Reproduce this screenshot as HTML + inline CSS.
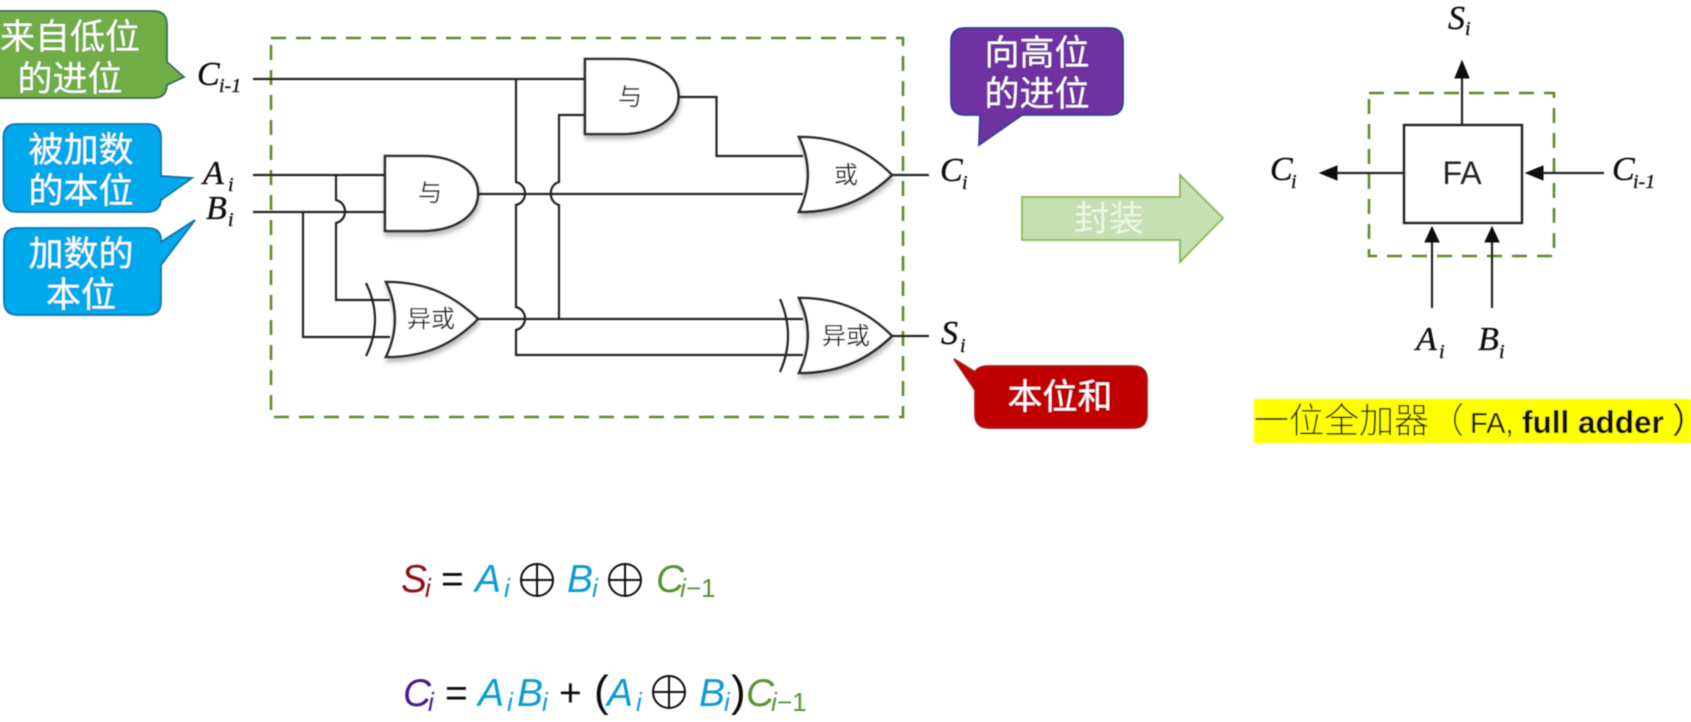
<!DOCTYPE html>
<html><head><meta charset="utf-8"><style>
html,body{margin:0;padding:0;background:#fff;width:1691px;height:722px;overflow:hidden}
svg{display:block}
.cj{font-family:"Liberation Sans","Noto Sans CJK SC",sans-serif}
.ma{font-family:"Liberation Serif",serif;font-style:italic;fill:#111;stroke:#111;stroke-width:.35}
.fo{font-family:"Liberation Sans",sans-serif;font-style:italic}
.w{fill:none;stroke:#222;stroke-width:2.2}
.g{fill:#fff;stroke:#2a2a2a;stroke-width:2.6;filter:url(#sh)}
.d{fill:none;stroke:#5f8a2c;stroke-width:2.6;stroke-dasharray:15 10}
.t{fill:#fff;font-size:35px;text-anchor:middle}
.gl{fill:#222;font-size:24px;text-anchor:middle}
</style></head><body>
<svg xmlns="http://www.w3.org/2000/svg" width="1691" height="722" viewBox="0 0 1691 722">
<defs>
<filter id="sh" x="-20%" y="-20%" width="140%" height="150%"><feDropShadow dx="1" dy="4" stdDeviation="2.5" flood-color="#000" flood-opacity=".28"/></filter>
<filter id="b" x="-2%" y="-2%" width="104%" height="104%"><feGaussianBlur stdDeviation=".5"/></filter>
</defs>
<rect width="1691" height="722" fill="#fff"/>
<g filter="url(#b)">
<!-- green callout -->
<path d="M-10 11H153Q167 11 167 25V62L184 77L167 85V84Q167 98 153 98H-10Z" fill="#70ad47" stroke="#2f6e55" stroke-width="1.8"/>
<text class="cj t" x="70" y="49">来自低位</text>
<text class="cj t" x="70" y="91">的进位</text>
<!-- blue 1 -->
<path d="M17 124H147Q161 124 161 138V176L192 178L161 200V198Q161 212 147 212H17Q3.500 212 3.500 198V138Q3.500 124 17 124Z" fill="#00a9ec" stroke="#0d72a8" stroke-width="1.8"/>
<text class="cj t" x="81" y="162">被加数</text>
<text class="cj t" x="81" y="203">的本位</text>
<!-- blue 2 -->
<path d="M18 228H147Q161 228 161 240V242L195 220L161 265V301Q161 315 147 315H18Q4 315 4 301V242Q4 228 18 228Z" fill="#00a9ec" stroke="#0d72a8" stroke-width="1.8"/>
<text class="cj t" x="81" y="266">加数的</text>
<text class="cj t" x="81" y="307">本位</text>
<!-- purple -->
<path d="M965 28H1109Q1123 28 1123 42V101Q1123 115 1109 115H1022L979 145L980 115H965Q951 115 951 101V42Q951 28 965 28Z" fill="#7030a0" stroke="#2b3f9a" stroke-width="1.8"/>
<text class="cj t" x="1037" y="65">向高位</text>
<text class="cj t" x="1037" y="106">的进位</text>
<!-- red -->
<path d="M989 366H1133Q1147 366 1147 380V414Q1147 428 1133 428H989Q975 428 975 414V390L954 359L975 372Q978 366 989 366Z" fill="#c00000" stroke="#a31d1d" stroke-width="1.8"/>
<text class="cj t" x="1060" y="409">本位和</text>
<!-- big arrow -->
<path d="M1022 197H1180V175L1223 218L1180 262V240H1022Z" fill="#c5e0b4" stroke="#8db84a" stroke-width="1.8"/>
<text class="cj" x="1109" y="231" font-size="35" text-anchor="middle" fill="#eef6e8">封装</text>
<!-- dashed boxes -->
<rect class="d" x="271" y="38" width="632" height="379"/>
<rect class="d" x="1369" y="93" width="185" height="163"/>
<!-- wires -->
<path class="w" d="M253 79H585"/>
<path class="w" d="M253 175H385"/>
<path class="w" d="M253 212H385"/>
<path class="w" d="M336 175V200C348 203 348 220 336 223V300H390"/>
<path class="w" d="M303 212V337H390"/>
<path class="w" d="M478 194H803"/>
<path class="w" d="M478 319H803"/>
<path class="w" d="M516 79V182C528 185 528 202 516 205V307C528 310 528 327 516 330V355H803"/>
<path class="w" d="M559 318V205C548 202 548 185 559 182V115H585"/>
<path class="w" d="M678 97H716.500V156H803"/>
<path class="w" d="M890 175H929"/>
<path class="w" d="M890 336H929"/>
<!-- extra xor arcs -->
<path class="w" d="M366 283Q384 320 366 356"/>
<path class="w" d="M780 299Q796 336 780 372"/>
<!-- gates -->
<path class="g" d="M385 156H421C456 156 478 172 478 193.500C478 215 456 231 421 231H385Z"/>
<path class="g" d="M585 59H621C656 59 678.500 75 678.500 96.500C678.500 118 656 134 621 134H585Z"/>
<path class="g" d="M386 282C430 282 456 298 478 319C456 341 430 357 386 357C398 332 398 307 386 282Z"/>
<path class="g" d="M799 137C843 137 870 153 892 175C870 196 843 212 799 212C811 187 811 162 799 137Z"/>
<path class="g" d="M799 298C843 298 870 314 892 336C870 357 843 373 799 373C811 348 811 323 799 298Z"/>
<text class="cj gl" x="430" y="201">与</text>
<text class="cj gl" x="630" y="105">与</text>
<text class="cj gl" x="431" y="327">异或</text>
<text class="cj gl" x="846" y="183">或</text>
<text class="cj gl" x="846" y="344">异或</text>
<!-- labels -->
<text class="ma" x="197" y="85" font-size="34">C</text><text class="ma" x="219" y="92" font-size="20">i-1</text>
<text class="ma" x="203" y="184" font-size="34">A</text><text class="ma" x="228" y="191" font-size="20">i</text>
<text class="ma" x="206" y="219" font-size="34">B</text><text class="ma" x="228" y="226" font-size="20">i</text>
<text class="ma" x="940" y="181" font-size="34">C</text><text class="ma" x="962" y="189" font-size="20">i</text>
<text class="ma" x="941" y="344" font-size="34">S</text><text class="ma" x="960" y="352" font-size="20">i</text>
<!-- FA -->
<rect x="1404" y="125" width="118" height="98" fill="none" stroke="#222" stroke-width="2.4"/>
<text x="1462" y="184" font-family="Liberation Sans,sans-serif" font-size="32" text-anchor="middle" fill="#222">FA</text>
<path class="w" d="M1462 125V76"/><path d="M1462 61L1455 78H1469Z" fill="#111" stroke="#111"/>
<path class="w" d="M1404 173H1334"/><path d="M1320 173L1337 166V180Z" fill="#111" stroke="#111"/>
<path class="w" d="M1604 173H1540"/><path d="M1526 173L1543 166V180Z" fill="#111" stroke="#111"/>
<path class="w" d="M1432 308V240"/><path d="M1432 227L1425 242H1439Z" fill="#111" stroke="#111"/>
<path class="w" d="M1492 308V240"/><path d="M1492 227L1485 242H1499Z" fill="#111" stroke="#111"/>
<text class="ma" x="1448" y="29" font-size="34">S</text><text class="ma" x="1465" y="35" font-size="20">i</text>
<text class="ma" x="1270" y="180" font-size="34">C</text><text class="ma" x="1291" y="188" font-size="20">i</text>
<text class="ma" x="1612" y="180" font-size="34">C</text><text class="ma" x="1633" y="188" font-size="20">i-1</text>
<text class="ma" x="1416" y="350" font-size="34">A</text><text class="ma" x="1439" y="358" font-size="20">i</text>
<text class="ma" x="1478" y="350" font-size="34">B</text><text class="ma" x="1499" y="358" font-size="20">i</text>
<!-- yellow -->
<rect x="1254" y="399" width="437" height="44" fill="#ffff00"/>
<text class="cj" x="1254" y="433" font-size="35" fill="#111" font-weight="300">一位全加器（</text>
<text x="1470" y="433" font-family="Liberation Sans,sans-serif" font-size="29" fill="#111">FA,</text>
<text x="1522" y="433" font-family="Liberation Sans,sans-serif" font-size="31.500" font-weight="bold" fill="#111">full adder</text>
<text class="cj" x="1672" y="433" font-size="35" fill="#111">）</text>
<!-- formula 1 -->
<g class="fo" font-size="39">
<text x="401" y="592" fill="#8e0b14">S</text><text x="425" y="597" font-size="26" fill="#8e0b14">i</text>
<text x="441" y="592" fill="#111" style="font-style:normal">=</text>
<text x="475" y="592" fill="#0a9bd6">A</text><text x="504" y="597" font-size="26" fill="#0a9bd6">i</text>
<text x="567" y="592" fill="#0a9bd6">B</text><text x="592" y="597" font-size="26" fill="#0a9bd6">i</text>
<text x="656" y="592" fill="#5b9431">C</text><text x="680" y="597" font-size="26" fill="#5b9431">i</text><text x="686" y="597" font-size="26" fill="#5b9431" style="font-style:normal">−1</text>
</g>
<!-- formula 2 -->
<g class="fo" font-size="39">
<text x="403" y="706" fill="#4a1a8c">C</text><text x="428" y="711" font-size="26" fill="#4a1a8c">i</text>
<text x="445" y="706" fill="#111" style="font-style:normal">=</text>
<text x="478" y="706" fill="#0a9bd6">A</text><text x="507" y="711" font-size="26" fill="#0a9bd6">i</text>
<text x="517" y="706" fill="#0a9bd6">B</text><text x="542" y="711" font-size="26" fill="#0a9bd6">i</text>
<text x="559" y="706" fill="#111" style="font-style:normal">+</text>
<text x="594" y="706" fill="#111" font-size="44" style="font-style:normal">(</text>
<text x="607" y="706" fill="#0a9bd6">A</text><text x="636" y="711" font-size="26" fill="#0a9bd6">i</text>
<text x="699" y="706" fill="#0a9bd6">B</text><text x="724" y="711" font-size="26" fill="#0a9bd6">i</text>
<text x="731" y="706" fill="#111" font-size="44" style="font-style:normal">)</text>
<text x="746" y="706" fill="#5b9431">C</text><text x="771" y="711" font-size="26" fill="#5b9431">i</text><text x="777" y="711" font-size="26" fill="#5b9431" style="font-style:normal">−1</text>
</g>
<!-- xor circles -->
<g fill="none" stroke="#111" stroke-width="2">
<circle cx="537" cy="580" r="16"/><path d="M521 580H553M537 564V596"/>
<circle cx="625" cy="580" r="16"/><path d="M609 580H641M625 564V596"/>
<circle cx="669" cy="692" r="16"/><path d="M653 692H685M669 676V708"/>
</g>
</g>
</svg>
</body></html>
